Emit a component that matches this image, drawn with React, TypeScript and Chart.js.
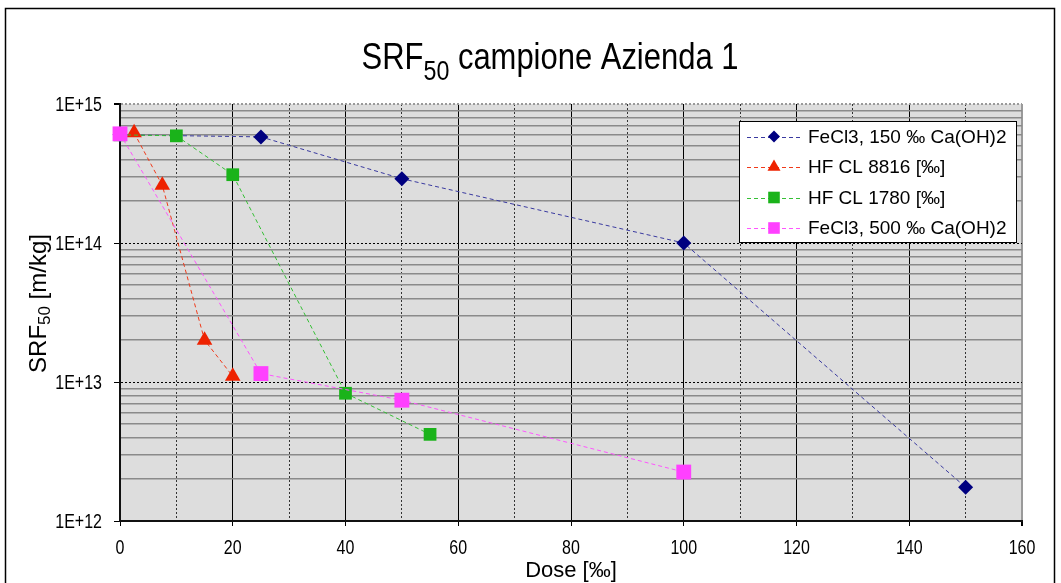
import React, { useEffect, useRef } from 'react';
import { Chart, registerables } from 'chart.js';
import { drawPoint } from 'chart.js/helpers';

Chart.register(...registerables);

// ---------- text ----------
const titleMain = 'SRF';
const titleSub = '50';
const titleRest = ' campione Azienda 1';
const yTitleMain = 'SRF';
const yTitleSub = '50';
const yTitleRest = ' [m/kg]';
const xTitle = 'Dose [‰]';

// ---------- data ----------
const seriesLabels = [
  'FeCl3, 150 ‰ Ca(OH)2',
  'HF CL 8816 [‰]',
  'HF CL 1780 [‰]',
  'FeCl3, 500 ‰ Ca(OH)2',
];

const doseFeCl3_150 = [0, 25, 50, 100, 150];
const srfFeCl3_150 = [6.0e14, 5.8e14, 2.9e14, 1.0e14, 1.75e12];

const doseHF8816 = [2.5, 7.5, 15, 20];
const srfHF8816 = [6.2e14, 2.6e14, 2.0e13, 1.1e13];

const doseHF1780 = [0, 10, 20, 40, 55];
const srfHF1780 = [6.0e14, 5.9e14, 3.1e14, 8.3e12, 4.2e12];

const doseFeCl3_500 = [0, 25, 50, 100];
const srfFeCl3_500 = [6.1e14, 1.15e13, 7.4e12, 2.25e12];

// ---------- axes ----------
const xMin = 0;
const xMax = 160;
const xStep = 10;
const xLabelStep = 20;
const yDecades = [1e12, 1e13, 1e14, 1e15];
const yDecadeLabels = ['1E+12', '1E+13', '1E+14', '1E+15'];
const yMinorMultiples = [2, 3, 4, 5, 6, 7, 8, 9];

// ---------- styles ----------
const lineColors = ['#3a3aa0', '#f03a1a', '#35c035', '#ff55ff'];
const markerColors = ['#000080', '#ee2200', '#1ab31a', '#ff40ff'];
const markerStyles = ['rectRot', 'triangle', 'rect', 'rect'];
const markerRadii = [7.5, 9, 9, 10.5];
const legendMarkerRadii = [6, 7.5, 8.2, 8.2];
const drawOrder = [4, 3, 2, 1];

const FONT = '"Liberation Sans", Arial, sans-serif';
const TICK_SX = 0.8;

const isDecade = (v: number) => {
  const l = Math.log10(v);
  return Math.abs(l - Math.round(l)) < 1e-9;
};

const xLabelFor = (v: number) => (v % xLabelStep === 0 ? String(v) : '');
const yLabelFor = (v: number) => {
  if (!isDecade(v)) return '';
  const idx = yDecades.findIndex((d) => Math.abs(d - v) / d < 1e-6);
  return idx >= 0 ? yDecadeLabels[idx] : '';
};

const toPoints = (xs: number[], ys: number[]) => xs.map((x, i) => ({ x, y: ys[i] }));

const bgPlugin = {
  id: 'plotBg',
  beforeDraw(chart: any) {
    const { ctx, chartArea } = chart;
    ctx.save();
    ctx.fillStyle = '#ffffff';
    ctx.fillRect(0, 0, chart.width, chart.height);
    ctx.fillStyle = '#dddddd';
    ctx.fillRect(chartArea.left, chartArea.top, chartArea.right - chartArea.left, chartArea.bottom - chartArea.top);
    ctx.restore();
  },
};

const condensedText = (ctx: any, text: string, x: number, y: number, align: 'left' | 'right' | 'center') => {
  const w = ctx.measureText(text).width * TICK_SX;
  let x0 = x;
  if (align === 'right') x0 = x - w;
  else if (align === 'center') x0 = x - w / 2;
  ctx.save();
  ctx.translate(x0, y);
  ctx.scale(TICK_SX, 1);
  ctx.textAlign = 'left';
  ctx.fillText(text, 0, 0);
  ctx.restore();
};

const decorPlugin = {
  id: 'decor',
  afterDraw(chart: any) {
    const { ctx, chartArea } = chart;
    ctx.save();
    // outer frame
    ctx.strokeStyle = '#000';
    ctx.lineWidth = 1.5;
    ctx.strokeRect(5.5, 8.5, 1049, 700);

    // tick labels (condensed, positioned by the scales)
    ctx.fillStyle = '#000';
    ctx.font = `20px ${FONT}`;
    ctx.textBaseline = 'middle';
    const xs = chart.scales.x;
    xs.ticks.forEach((t: any) => {
      const lab = xLabelFor(t.value);
      if (lab) condensedText(ctx, lab, xs.getPixelForValue(t.value), chartArea.bottom + 27, 'center');
    });
    const ys = chart.scales.y;
    ys.ticks.forEach((t: any) => {
      const lab = yLabelFor(t.value);
      if (lab) condensedText(ctx, lab, chartArea.left - 18, ys.getPixelForValue(t.value) + 1, 'right');
    });

    // main title (condensed)
    ctx.textBaseline = 'alphabetic';
    ctx.textAlign = 'left';
    const sx = 0.86;
    ctx.font = `36px ${FONT}`;
    const w1 = ctx.measureText(titleMain).width;
    const w3 = ctx.measureText(titleRest).width;
    ctx.font = `27px ${FONT}`;
    const w2 = ctx.measureText(titleSub).width;
    const total = (w1 + w2 + w3) * sx;
    const cx = (chartArea.left + chartArea.right) / 2 - 21;
    ctx.save();
    ctx.translate(cx - total / 2, 69);
    ctx.scale(sx, 1);
    ctx.font = `36px ${FONT}`;
    ctx.fillText(titleMain, 0, 0);
    ctx.font = `27px ${FONT}`;
    ctx.fillText(titleSub, w1, 11);
    ctx.font = `36px ${FONT}`;
    ctx.fillText(titleRest, w1 + w2, 0);
    ctx.restore();

    // y axis title
    ctx.save();
    ctx.translate(45.5, (chartArea.top + chartArea.bottom) / 2 - 9);
    ctx.rotate(-Math.PI / 2);
    ctx.font = `24px ${FONT}`;
    const a1 = ctx.measureText(yTitleMain).width;
    const a3 = ctx.measureText(yTitleRest).width;
    ctx.font = `17px ${FONT}`;
    const a2 = ctx.measureText(yTitleSub).width;
    const start = -(a1 + a2 + a3) / 2;
    ctx.font = `24px ${FONT}`;
    ctx.fillText(yTitleMain, start, 0);
    ctx.font = `17px ${FONT}`;
    ctx.fillText(yTitleSub, start + a1, 4);
    ctx.font = `24px ${FONT}`;
    ctx.fillText(yTitleRest, start + a1 + a2, 0);
    ctx.restore();

    // legend
    const l = chartArea.right - 283;
    const t = chartArea.top + 17;
    const r = chartArea.right - 6;
    const b = chartArea.top + 138;
    ctx.fillStyle = '#ffffff';
    ctx.fillRect(l, t, r - l, b - t);
    ctx.strokeStyle = '#000';
    ctx.lineWidth = 1;
    ctx.strokeRect(Math.round(l) + 0.5, Math.round(t) + 0.5, r - l, b - t);
    chart.data.datasets.forEach((ds: any, i: number) => {
      const y = t + 15.5 + i * 30.5;
      ctx.save();
      ctx.strokeStyle = ds.borderColor;
      ctx.lineWidth = 1;
      ctx.setLineDash(ds.borderDash);
      ctx.beginPath();
      ctx.moveTo(l + 8, Math.round(y) + 0.5);
      ctx.lineTo(l + 63, Math.round(y) + 0.5);
      ctx.stroke();
      ctx.setLineDash([]);
      ctx.fillStyle = ds.pointBackgroundColor;
      ctx.strokeStyle = ds.pointBackgroundColor;
      drawPoint(ctx, { pointStyle: ds.pointStyle, radius: legendMarkerRadii[i], rotation: 0, borderWidth: 0 } as any, l + 35, y);
      ctx.restore();
      ctx.fillStyle = '#000';
      ctx.font = `19px ${FONT}`;
      ctx.textBaseline = 'middle';
      ctx.textAlign = 'left';
      ctx.fillText(ds.label, l + 69, y + 1);
    });
    ctx.restore();
  },
};

export default function App() {
  const canvasRef = useRef<HTMLCanvasElement | null>(null);

  useEffect(() => {
    const canvas = canvasRef.current;
    if (!canvas) return;

    const xs = [doseFeCl3_150, doseHF8816, doseHF1780, doseFeCl3_500];
    const ys = [srfFeCl3_150, srfHF8816, srfHF1780, srfFeCl3_500];

    const datasets = seriesLabels.map((label, i) => ({
      label,
      data: toPoints(xs[i], ys[i]),
      borderColor: lineColors[i],
      backgroundColor: markerColors[i],
      borderWidth: 1,
      borderDash: [4, 3],
      pointStyle: markerStyles[i],
      pointRadius: markerRadii[i],
      pointBackgroundColor: markerColors[i],
      pointBorderColor: markerColors[i],
      pointBorderWidth: 0,
      tension: 0,
      clip: false,
      order: drawOrder[i],
    }));

    const yTicks: { value: number }[] = [];
    yDecades.forEach((d, i) => {
      yTicks.push({ value: d });
      if (i < yDecades.length - 1) yMinorMultiples.forEach((m) => yTicks.push({ value: d * m }));
    });

    const chart = new Chart(canvas, {
      type: 'line',
      data: { datasets: datasets as any },
      options: {
        animation: false,
        responsive: false,
        devicePixelRatio: 1,
        layout: { padding: { left: 0, right: 39, top: 104, bottom: 0 } },
        plugins: { legend: { display: false }, title: { display: false }, tooltip: { enabled: false } },
        scales: {
          x: {
            type: 'linear',
            min: xMin,
            max: xMax,
            afterFit: (s: any) => { s.height = 62; },
            ticks: {
              display: false,
              stepSize: xStep,
              autoSkip: false,
              maxRotation: 0,
              callback: (v: any) => xLabelFor(Number(v)),
            },
            grid: {
              color: (c: any) => (c.tick && c.tick.value === xMax ? '#9a9a9a' : c.tick && c.tick.value % xLabelStep === 0 ? '#000' : '#333'),
              lineWidth: (c: any) => (c.tick && c.tick.value === xMax ? 2 : 1),
              tickLength: 5,
              tickColor: (c: any) => (c.tick && c.tick.value % xLabelStep === 0 ? '#000' : 'rgba(0,0,0,0)'),
              tickBorderDash: [],
            },
            border: {
              color: '#111',
              width: 2,
              dash: (c: any) => (c.tick && c.tick.value % xLabelStep !== 0 ? [2, 2] : []),
            },
            title: {
              display: true,
              text: xTitle,
              color: '#000',
              font: { family: FONT, size: 22 },
              padding: { top: 0, bottom: -1 },
            },
          },
          y: {
            type: 'logarithmic',
            min: yDecades[0],
            max: yDecades[yDecades.length - 1],
            afterFit: (s: any) => { s.width = 120; },
            afterBuildTicks: (s: any) => { s.ticks = yTicks.map((t) => ({ ...t })); },
            ticks: {
              display: false,
              autoSkip: false,
              callback: (v: any) => yLabelFor(Number(v)),
            },
            grid: {
              color: (c: any) => {
                if (!c.tick) return '#888';
                const v = c.tick.value;
                if (Math.abs(v - yDecades[yDecades.length - 1]) / v < 1e-6) return '#9a9a9a';
                return isDecade(v) ? '#000' : '#8a8a8a';
              },
              lineWidth: (c: any) => {
                if (!c.tick) return 1;
                const v = c.tick.value;
                if (Math.abs(v - yDecades[yDecades.length - 1]) / v < 1e-6) return 2;
                return isDecade(v) ? 1 : 1.5;
              },
              tickLength: 6,
              tickColor: (c: any) => (c.tick && isDecade(c.tick.value) ? '#000' : 'rgba(0,0,0,0)'),
              tickBorderDash: [],
            },
            border: {
              color: '#111',
              width: 2,
              dash: (c: any) => (c.tick && isDecade(c.tick.value) ? [2, 2] : []),
            },
          },
        },
      },
      plugins: [bgPlugin, decorPlugin],
    } as any);

    return () => chart.destroy();
  }, []);

  return (
    <div style={{ position: 'absolute', left: 0, top: 0, width: 1061, height: 583 }}>
      <canvas ref={canvasRef} width={1061} height={583} style={{ display: 'block' }} />
    </div>
  );
}
